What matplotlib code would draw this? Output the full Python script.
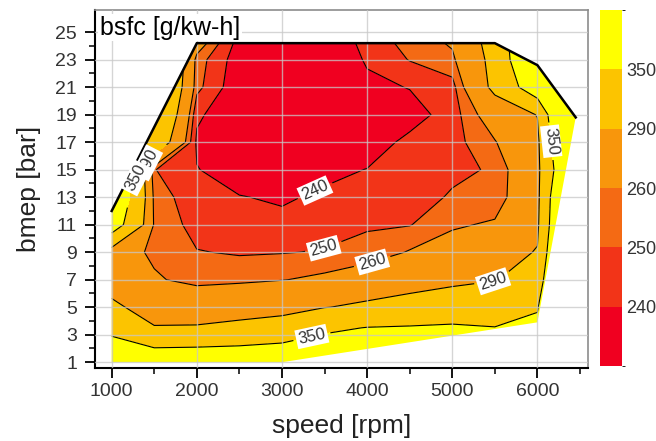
import matplotlib
matplotlib.use('Agg')
import matplotlib.pyplot as plt
from matplotlib.colors import ListedColormap, BoundaryNorm
from matplotlib.patches import Polygon

plt.rcParams['font.family'] = ['Liberation Sans', 'DejaVu Sans']

# engine map grid
speed = [1000, 1500, 2000, 2500, 3000, 3500, 4000, 4500, 5000, 5500, 6000, 6500]
bmep = [1, 2, 3.5, 5, 7, 9, 11, 13, 15, 17, 19, 21, 23, 25]

# bsfc [g/kW-h], one row per bmep value
bsfc = [
    [400, 380, 372, 370, 385, 390, 420, 440, 460, 480, 450, 600],
    [372, 352, 354, 358, 368, 375, 372, 390, 400, 420, 420, 600],
    [335, 292, 292, 296, 300, 340, 351.6, 355, 360, 352, 365, 600],
    [297, 275, 278, 280, 283, 289, 296, 300, 305, 310, 345, 600],
    [275, 262, 255, 257, 259.5, 263, 270, 280, 285, 289, 300, 650],
    [270, 257, 250.5, 249, 249.5, 250.7, 253, 261, 268, 275, 292, 550],
    [385, 258, 246, 244, 243, 246, 249, 249.5, 258, 262, 283, 520],
    [420, 256, 243, 240.5, 238.5, 242, 245, 246, 251, 252, 280, 510],
    [420, 250.5, 240.5, 234, 232, 237, 240.3, 244, 248, 251, 280, 460],
    [420, 320, 238, 231, 229, 230, 234, 243, 246, 259, 282, 490],
    [420, 345, 242, 231, 228, 227, 233, 235, 245, 270, 291, 530],
    [420, 360, 253, 232, 229, 227, 237, 240.5, 246, 298, 390, 500],
    [420, 370, 255, 234, 231, 228, 241.5, 250.5, 257, 300, 440, 500],
    [420, 380, 280, 238, 234, 230, 246, 255, 265, 305, 450, 500],
]

# full load (WOT) line and lower edge of the measured area
wot_speed = [1000, 2000, 5500, 6000, 6450]
wot_bmep = [12.0, 24.2, 24.2, 22.6, 18.8]
min_speed = [1000, 3000, 6000]
min_bmep = [1.0, 1.0, 3.9]

levels = [200, 240, 250, 260, 290, 350, 700]
line_levels = [240, 250, 260, 290, 350]
colors = ['#F00020', '#F23418', '#F46A14', '#F8960C', '#FCC400', '#FFFF00']

fig = plt.figure(figsize=(6.56, 4.41), dpi=100)
ax = fig.add_axes([0.1448, 0.1655, 0.7515, 0.8115])
cax = fig.add_axes([0.9146, 0.170, 0.0335, 0.807])

ax.set_xlim(804, 6594)
ax.set_ylim(0.58, 26.6)

cmap = ListedColormap(colors)
norm = BoundaryNorm(levels, cmap.N)
cf = ax.contourf(speed, bmep, bsfc, levels=levels, cmap=cmap, norm=norm, zorder=1)
cs = ax.contour(speed, bmep, bsfc, levels=line_levels, colors='black', linewidths=0.8, zorder=2)

verts = list(zip(min_speed, min_bmep)) + list(zip(wot_speed[::-1], wot_bmep[::-1]))
area = Polygon(verts, closed=True, transform=ax.transData)
cf.set_clip_path(area)
cs.set_clip_path(area)

ax.plot(wot_speed, wot_bmep, color='black', linewidth=1.8, zorder=3)

# contour labels (nearest line to each point gets the label)
label_pos = [(3386, 13.5), (3480, 9.7), (4067, 8.15), (5475, 7.1), (1508, 15.8),
             (3350, 2.9), (6203, 17.1), (1240, 13.6)]
txts = ax.clabel(cs, manual=label_pos, inline=True, fmt='%d', fontsize=12, colors='#333333')
for t in txts:
    t.set_bbox(dict(facecolor='white', edgecolor='none', pad=1.5))
    x, y = t.get_position()
    if x < 1600:
        # the two labels squeezed along the full load line
        t.set_rotation(63)
        if t.get_text() == '350':
            t.set_position((1285, 14.4))
            t.set_zorder(5)
        else:
            t.set_position((1420, 15.5))
            t.set_zorder(4.5)

ax.text(0.01, 0.985, 'bsfc [g/kw-h]', transform=ax.transAxes, ha='left', va='top',
        fontsize=18, color='black', zorder=6,
        bbox=dict(facecolor='white', edgecolor='none', pad=1))

ax.set_xticks([1000, 2000, 3000, 4000, 5000, 6000])
ax.set_xticks([1500, 2500, 3500, 4500, 5500, 6500], minor=True)
ax.set_yticks(list(range(1, 26, 2)))
ax.set_yticks(list(range(2, 26, 2)), minor=True)
ax.grid(True, which='major', color='#C8C8C8', alpha=0.75, linewidth=1.0, zorder=2.5)
ax.set_axisbelow(False)

ax.tick_params(which='both', direction='out', colors='black', labelcolor='#333333',
               labelsize=14, top=False, right=False)
ax.tick_params(which='major', length=7, width=1.3)
ax.tick_params(which='minor', length=4, width=1.1)
ax.tick_params(axis='y', which='major', pad=6)
ax.tick_params(axis='x', which='major', pad=4)
for side in ['left', 'bottom']:
    ax.spines[side].set_color('black')
    ax.spines[side].set_linewidth(1.5)
for side in ['top', 'right']:
    ax.spines[side].set_color('#8C8C8C')
    ax.spines[side].set_linewidth(1.2)

ax.set_xlabel('speed [rpm]', fontsize=19, color='#222222', labelpad=10)
ax.set_ylabel('bmep [bar]', fontsize=19, color='#222222', labelpad=10)

cb = fig.colorbar(cf, cax=cax)
cb.set_ticks(line_levels)
cb.ax.tick_params(length=0, labelsize=13, labelcolor='#333333', pad=3)
cb.outline.set_visible(False)

fig.savefig('out.png', dpi=100)
